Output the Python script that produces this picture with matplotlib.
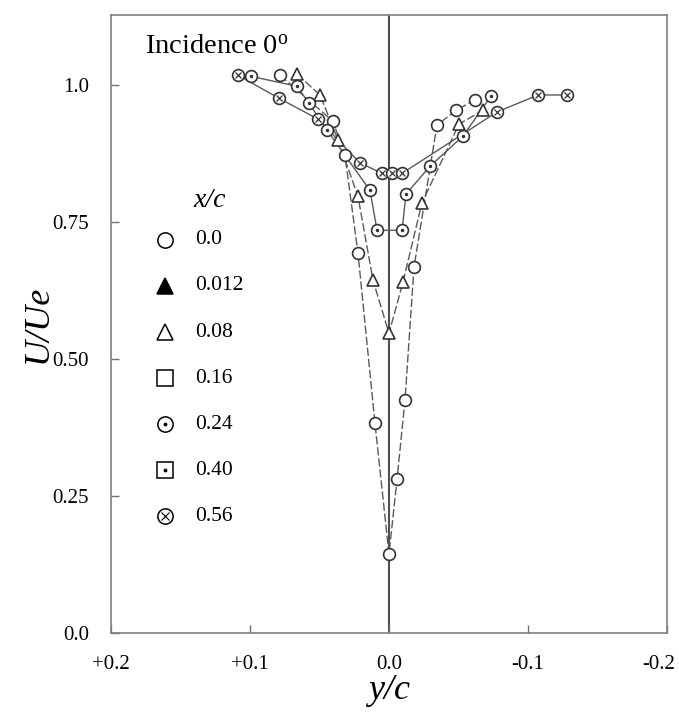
import matplotlib
matplotlib.use("Agg")
import matplotlib.pyplot as plt
import matplotlib.transforms as mtransforms

plt.rcParams['font.family'] = ['Liberation Serif', 'DejaVu Serif']

# ---- data (y/c, U/Ue) ----
xc00_y = [0.0784, 0.0403, 0.0317, 0.0223, 0.0101, 0.0, -0.0058, -0.0115, -0.018, -0.0345, -0.0482, -0.0619]
xc00_u = [1.018, 0.934, 0.872, 0.693, 0.383, 0.144, 0.281, 0.425, 0.668, 0.927, 0.954, 0.973]

xc08_y = [0.0662, 0.0496, 0.0367, 0.0223, 0.0115, 0.0, -0.0101, -0.0237, -0.0504, -0.0676]
xc08_u = [1.020, 0.982, 0.900, 0.797, 0.644, 0.547, 0.641, 0.785, 0.929, 0.954]

xc24_y = [0.0993, 0.0662, 0.0576, 0.0446, 0.0137, 0.0086, -0.0094, -0.0122, -0.0295, -0.0532, -0.0734]
xc24_u = [1.016, 0.998, 0.967, 0.918, 0.808, 0.735, 0.735, 0.801, 0.852, 0.907, 0.980]

xc56_y = [0.1086, 0.0791, 0.0511, 0.0209, 0.005, -0.0022, -0.0094, -0.0777, -0.1072, -0.128]
xc56_u = [1.018, 0.976, 0.938, 0.858, 0.839, 0.839, 0.839, 0.951, 0.982, 0.982]

legend_labels = ['0.0', '0.012', '0.08', '0.16', '0.24', '0.40', '0.56']
x_ticks = [0.2, 0.1, 0.0, -0.1, -0.2]
x_ticklabels = ['+0.2', '+0.1', '0.0', '-0.1', '-0.2']
y_ticks = [0.0, 0.25, 0.50, 0.75, 1.0]
y_ticklabels = ['0.0', '0.25', '0.50', '0.75', '1.0']

fig = plt.figure(figsize=(6.79, 7.13), dpi=100)
ax = fig.add_axes([111/679, 1-633/713, 556/679, 618/713])

ax.set_xlim(0.2, -0.2)
ax.set_ylim(0.0, 1.128)

line_c = '#5a5a5a'
mk_c = '#333333'
ms = 8.5

ax.axvline(0.0, color='#505050', lw=1.5, zorder=1)

# lines
ax.plot(xc00_y, xc00_u, color=line_c, lw=1.0, ls=(0, (6, 2)), zorder=2)
ax.plot(xc08_y, xc08_u, color=line_c, lw=1.0, ls=(0, (6, 2)), zorder=2)
ax.plot(xc24_y, xc24_u, color=line_c, lw=1.0, zorder=2)
ax.plot(xc56_y, xc56_u, color=line_c, lw=1.0, zorder=2)

mkw = dict(ls='none', mfc='white', mec=mk_c, mew=1.2, ms=ms, zorder=3)
ax.plot(xc00_y, xc00_u, marker='o', **mkw)
ax.plot(xc08_y, xc08_u, marker='^', **mkw)
ax.plot(xc24_y, xc24_u, marker='o', **mkw)
ax.plot(xc24_y, xc24_u, ls='none', marker='.', ms=3, color=mk_c, zorder=4)
ax.plot(xc56_y, xc56_u, marker='o', **mkw)
ax.plot(xc56_y, xc56_u, ls='none', marker='x', ms=5, mew=0.9, color=mk_c, zorder=4)

# legend (manual)
leg_x = 0.097
leg_tx = 0.151
leg_y0 = 0.636
leg_dy = 0.0745
ax.text(0.178, 0.700, 'x/c', transform=ax.transAxes, ha='center', va='center',
        fontsize=20, style='italic')
styles = [
    dict(marker='o', mfc='white'),
    dict(marker='^', mfc='black'),
    dict(marker='^', mfc='white'),
    dict(marker='s', mfc='white'),
    dict(marker='o', mfc='white'),
    dict(marker='s', mfc='white'),
    dict(marker='o', mfc='white'),
]
inner = [None, None, None, None, '.', '.', 'x']
for i, lab in enumerate(legend_labels):
    yy = leg_y0 - i * leg_dy
    ax.plot([leg_x], [yy], transform=ax.transAxes, ls='none', mec='black', mew=1.1,
            ms=11, clip_on=False, **styles[i])
    if inner[i] == '.':
        ax.plot([leg_x], [yy], transform=ax.transAxes, ls='none', marker='.', ms=3.5,
                color='black', clip_on=False)
    elif inner[i] == 'x':
        ax.plot([leg_x], [yy], transform=ax.transAxes, ls='none', marker='x', ms=5.5,
                mew=0.8, color='black', clip_on=False)
    ax.text(leg_tx, yy, lab, transform=ax.transAxes, ha='left', va='center', fontsize=15.5)

ax.text(0.061, 0.948, 'Incidence 0$\\mathregular{^o}$', transform=ax.transAxes,
        ha='left', va='center', fontsize=20.5)

ax.set_xticks(x_ticks)
ax.set_xticklabels(x_ticklabels)
ax.set_yticks(y_ticks)
ax.set_yticklabels(y_ticklabels)
ax.tick_params(direction='in', length=6, width=1, color='#707070', labelsize=15)
ax.tick_params(axis='x', pad=16)
ax.tick_params(axis='y', pad=16)

# keep the last x tick label inside the figure
lbl = ax.get_xticklabels()[-1]
lbl.set_transform(lbl.get_transform() +
                  mtransforms.ScaledTranslation(-8/100, 0, fig.dpi_scale_trans))

for s in ax.spines.values():
    s.set_color('#7f7f7f')
    s.set_linewidth(1.2)

ax.set_xlabel('y/c', fontsize=26, style='italic', labelpad=0)
ax.set_ylabel('U/Ue', fontsize=26, style='italic', labelpad=-2)

fig.savefig('out.png', dpi=100)
